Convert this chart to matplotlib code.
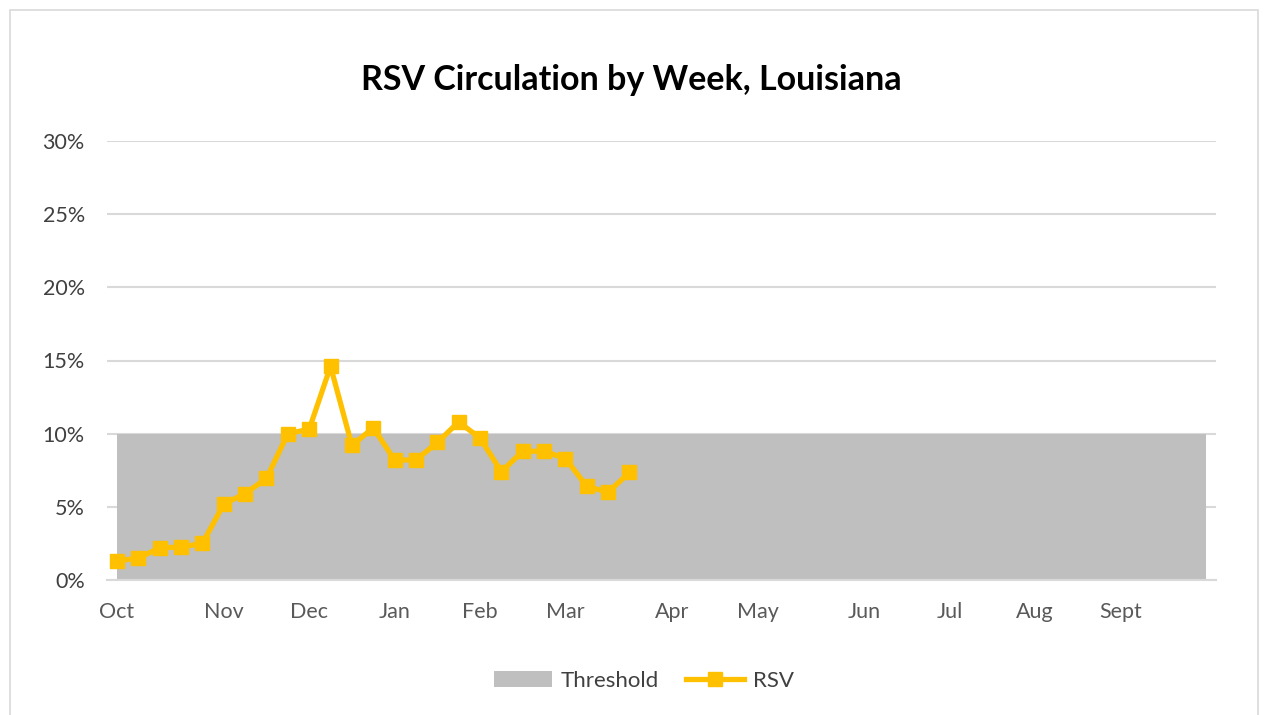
import numpy as np
import matplotlib
matplotlib.use("Agg")
import matplotlib.pyplot as plt
from matplotlib.patches import Rectangle

plt.rcParams["font.family"] = ["Lato", "DejaVu Sans"]

# 每周数据（2019-2020 季，Oct 第一周为 0）
weeks = np.arange(52)
threshold = np.full(52, 0.10)
rsv = [1.3, 1.5, 2.2, 2.25, 2.5, 5.2, 5.9, 6.95, 10.0, 10.3, 14.6, 9.2, 10.4,
       8.2, 8.2, 9.4, 10.8, 9.7, 7.4, 8.8, 8.8, 8.3, 6.4, 6.0, 7.35]
rsv = np.array(rsv) / 100
rsv_weeks = weeks[:len(rsv)]

month_pos = [0, 5, 9, 13, 17, 21, 26, 30, 35, 39, 43, 47]
month_lab = ["Oct", "Nov", "Dec", "Jan", "Feb", "Mar", "Apr", "May",
             "Jun", "Jul", "Aug", "Sept"]
yticks = [0, 0.05, 0.10, 0.15, 0.20, 0.25, 0.30]

W, H = 1269, 715
fig = plt.figure(figsize=(W / 100, H / 100), dpi=100)
fig.patches.append(Rectangle((10 / W, -0.05), 1248 / W, 1.05 - 10 / H,
                             transform=fig.transFigure, fill=False,
                             edgecolor="#d9d9d9", linewidth=1.2))

ax = fig.add_axes([107 / W, 135 / H, 1109 / W, 439 / H])
ax.fill_between(weeks, 0, threshold, color="#bfbfbf", linewidth=0,
                label="Threshold")
ax.plot(rsv_weeks, rsv, color="#ffc000", linewidth=3.8, marker="s",
        markersize=10, label="RSV")

ax.set_xlim(-0.47, 51.47)
ax.set_ylim(0, 0.30)
ax.set_yticks(yticks)
ax.set_yticklabels([f"{int(round(v * 100))}%" for v in yticks])
ax.set_xticks(month_pos)
ax.set_xticklabels(month_lab)
ax.tick_params(axis="y", length=0, pad=16, labelsize=15.5, labelcolor="#404040")
ax.tick_params(axis="x", length=0, pad=16, labelsize=15.5, labelcolor="#595959")
ax.grid(axis="y", color="#d9d9d9", linewidth=1.5)
ax.set_axisbelow(True)
for s in ["top", "right", "left"]:
    ax.spines[s].set_visible(False)
ax.spines["bottom"].set_color("#d9d9d9")
ax.spines["bottom"].set_linewidth(1.5)

fig.text(631 / W, 1 - 80 / H, "RSV Circulation by Week, Louisiana",
         ha="center", va="center", fontsize=24.5, fontweight="bold",
         color="#000000")

fig.legend(loc="center", bbox_to_anchor=(644 / W, 1 - 681 / H), ncol=2,
           frameon=False, fontsize=16, handlelength=2.6, columnspacing=1.2,
           handletextpad=0.4, labelcolor="#404040")

fig.savefig("out.png", dpi=100)
